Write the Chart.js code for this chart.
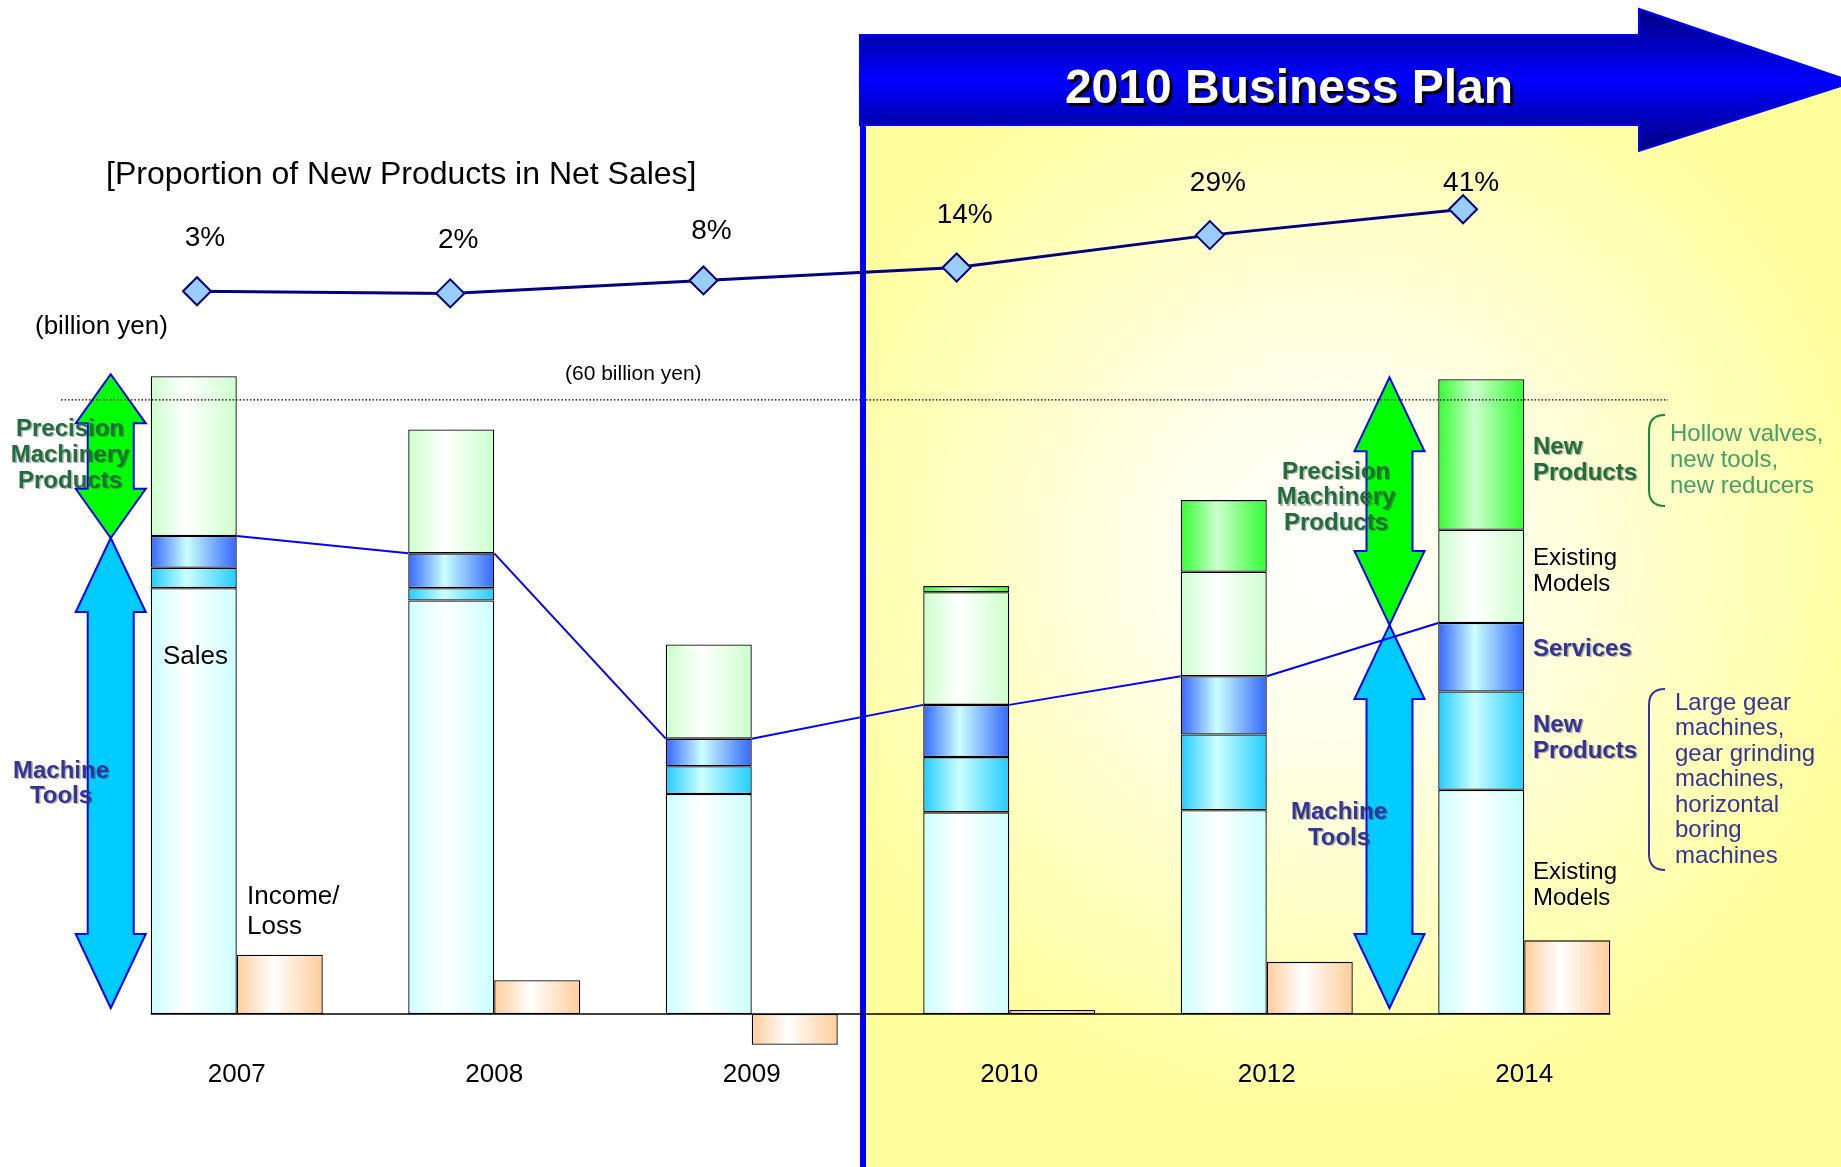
<!DOCTYPE html>
<html>
<head>
<meta charset="utf-8">
<title>2010 Business Plan</title>
<script src="https://cdn.jsdelivr.net/npm/chart.js@4.4.1/dist/chart.umd.min.js"></script>
<style>
    html, body { margin: 0; padding: 0; background: #fff; }
    #wrap { position: relative; width: 1841px; height: 1167px; }
    #wrap canvas { position: absolute; left: 0; top: 0; display: block; }
</style>
</head>
<body>
<div id="wrap">
    <canvas id="salesChart" width="1841" height="1167"></canvas>
    <canvas id="shareChart" width="1841" height="1167"></canvas>
</div>
<script>
const years = ['2007', '2008', '2009', '2010', '2012', '2014'];

// sales breakdown in billion yen, bottom to top of each bar
const mtExisting = [41.6, 40.4, 21.5, 19.7, 19.9, 21.9];
const mtNew      = [2.0, 1.2, 2.7, 5.4, 7.4, 9.6];
const services   = [3.1, 3.4, 2.7, 5.1, 5.7, 6.7];
const pmExisting = [15.6, 12.1, 9.2, 11.0, 10.2, 9.1];
const pmNew      = [null, null, null, 0.6, 7.0, 14.7];

// income / loss in billion yen
const income = [5.8, 3.3, -3.0, 0.4, 5.1, 7.2];

// proportion of new products in net sales (%)
const newShare = [3, 2, 8, 14, 29, 41];

const FONT = "'Liberation Sans', Arial, sans-serif";
const GREEN_TXT = '#1F6E3B';
const BLUE_TXT = '#333399';
const CAT_PCT = 0.668;
const PAD = { left: 108, right: 188, top: 150, bottom: 0 };

function salesTotal(i) {
    return mtExisting[i] + mtNew[i] + services[i] + pmExisting[i] + (pmNew[i] || 0);
}
function mtTop(i) {
    return mtExisting[i] + mtNew[i] + services[i];
}

// horizontal "cylinder" shading for every bar segment
function barFill(edge, mid) {
    return function (c) {
        const xs = c.chart.scales.x;
        if (!xs || c.dataIndex === undefined || !xs.width) return mid;
        const w = xs.width / years.length * CAT_PCT / 2;
        const center = xs.getPixelForValue(c.dataIndex);
        const left = c.dataset.stack === 'sales' ? center - w : center;
        const g = c.chart.ctx.createLinearGradient(left, 0, left + w, 0);
        g.addColorStop(0, edge);
        g.addColorStop(0.42, mid);
        g.addColorStop(1, edge);
        return g;
    };
}

function salesSet(label, data, edge, mid) {
    return {
        label: label,
        data: data,
        stack: 'sales',
        backgroundColor: barFill(edge, mid),
        borderColor: '#000',
        borderWidth: 1.3,
        borderSkipped: false
    };
}

function text(ctx, lines, x, y, lineH, font, color, align, shadow) {
    ctx.save();
    ctx.font = font;
    ctx.fillStyle = color;
    ctx.textAlign = align || 'left';
    ctx.textBaseline = 'middle';
    if (shadow) {
        ctx.shadowColor = 'rgba(0,0,0,0.3)';
        ctx.shadowOffsetX = 1.5;
        ctx.shadowOffsetY = 1.5;
    }
    lines.forEach((s, k) => ctx.fillText(s, x, y + k * lineH));
    ctx.restore();
}

function doubleArrow(ctx, cx, top, bottom, fill) {
    const head = Math.min(74, (bottom - top) * 0.3);
    const hw = 35, sw = 23;
    ctx.beginPath();
    ctx.moveTo(cx, top);
    ctx.lineTo(cx + hw, top + head);
    ctx.lineTo(cx + sw, top + head);
    ctx.lineTo(cx + sw, bottom - head);
    ctx.lineTo(cx + hw, bottom - head);
    ctx.lineTo(cx, bottom);
    ctx.lineTo(cx - hw, bottom - head);
    ctx.lineTo(cx - sw, bottom - head);
    ctx.lineTo(cx - sw, top + head);
    ctx.lineTo(cx - hw, top + head);
    ctx.closePath();
    ctx.fillStyle = fill;
    ctx.fill();
    ctx.strokeStyle = '#0000FF';
    ctx.lineWidth = 2;
    ctx.stroke();
}

function bracket(ctx, x, top, bottom, color) {
    ctx.beginPath();
    ctx.moveTo(x + 16, top);
    ctx.quadraticCurveTo(x, top, x, top + 16);
    ctx.lineTo(x, bottom - 16);
    ctx.quadraticCurveTo(x, bottom, x + 16, bottom);
    ctx.strokeStyle = color;
    ctx.lineWidth = 2;
    ctx.stroke();
}

const decor = {
    id: 'decor',
    beforeDraw(chart) {
        const ctx = chart.ctx, W = chart.width, H = chart.height;
        ctx.save();
        ctx.fillStyle = '#fff';
        ctx.fillRect(0, 0, W, H);

        // business plan zone
        const rg = ctx.createRadialGradient(1330, 560, 0, 1330, 560, 560);
        rg.addColorStop(0, '#FFFFFF');
        rg.addColorStop(0.3, '#FFFFEC');
        rg.addColorStop(1, '#FFFF9C');
        ctx.fillStyle = rg;
        ctx.fillRect(863, 82, W - 863, H - 82);
        ctx.fillStyle = '#0000FF';
        ctx.fillRect(860, 35, 6, H - 35);

        // banner arrow
        const bg = ctx.createLinearGradient(0, 9, 0, 151);
        bg.addColorStop(0, '#000080');
        bg.addColorStop(0.5, '#0000FF');
        bg.addColorStop(1, '#000080');
        ctx.beginPath();
        ctx.moveTo(860, 35);
        ctx.lineTo(1639, 35);
        ctx.lineTo(1639, 9);
        ctx.lineTo(1853, 82);
        ctx.lineTo(1639, 151);
        ctx.lineTo(1639, 125);
        ctx.lineTo(860, 125);
        ctx.closePath();
        ctx.fillStyle = bg;
        ctx.fill();
        ctx.strokeStyle = '#0000FF';
        ctx.lineWidth = 2;
        ctx.stroke();

        ctx.font = 'bold 48px ' + FONT;
        ctx.textAlign = 'center';
        ctx.textBaseline = 'middle';
        ctx.fillStyle = '#000';
        ctx.fillText('2010 Business Plan', 1292, 93);
        ctx.fillStyle = '#fff';
        ctx.fillText('2010 Business Plan', 1289, 90);
        ctx.restore();
    },
    afterDatasetsDraw(chart) {
        const ctx = chart.ctx;
        const xs = chart.scales.x, y = chart.scales.y;
        const bw = xs.width / years.length * CAT_PCT / 2;
        const base = y.getPixelForValue(0);
        ctx.save();

        // zero line under the bars
        ctx.strokeStyle = '#000';
        ctx.lineWidth = 1.5;
        ctx.beginPath();
        ctx.moveTo(xs.getPixelForValue(0) - bw, base);
        ctx.lineTo(xs.getPixelForValue(years.length - 1) + bw, base);
        ctx.stroke();

        // segment arrows
        const last = years.length - 1;
        const arrowX = [
            [xs.getPixelForValue(0) - bw - 40, 0],
            [(xs.getPixelForValue(last - 1) + xs.getPixelForValue(last)) / 2 - 6, last]
        ];
        arrowX.forEach(([ax, i]) => {
            const t = y.getPixelForValue(salesTotal(i)) - 2;
            const m = y.getPixelForValue(mtTop(i)) + 2;
            doubleArrow(ctx, ax, t, m, '#00FF00');
            doubleArrow(ctx, ax, m, base - 6, '#00CCFF');
        });

        // machine tools / precision machinery boundary
        const svc = chart.getDatasetMeta(2).data;
        ctx.strokeStyle = '#0000FF';
        ctx.lineWidth = 2;
        for (let i = 0; i < svc.length - 1; i++) {
            const a = svc[i], b = svc[i + 1];
            ctx.beginPath();
            ctx.moveTo(a.x + a.width / 2, a.y);
            ctx.lineTo(b.x - b.width / 2, b.y);
            ctx.stroke();
        }

        // 60 billion yen reference
        const y60 = y.getPixelForValue(60);
        ctx.strokeStyle = '#000';
        ctx.lineWidth = 1.2;
        ctx.setLineDash([1.5, 2]);
        ctx.beginPath();
        ctx.moveTo(xs.left - 47, y60);
        ctx.lineTo(xs.right + 15, y60);
        ctx.stroke();
        ctx.setLineDash([]);

        const reg = (s) => s + 'px ' + FONT;
        const bold = (s) => 'bold ' + s + 'px ' + FONT;
        text(ctx, ['[Proportion of New Products in Net Sales]'], 106, 175, 0, reg(32), '#000');
        text(ctx, ['(billion yen)'], 35, 327, 0, reg(26), '#000');
        text(ctx, ['(60 billion yen)'], 565, y60 - 26, 0, reg(21), '#000');

        text(ctx, ['Precision', 'Machinery', 'Products'], 70, 429, 26, bold(24), GREEN_TXT, 'center', true);
        text(ctx, ['Machine', 'Tools'], 61, 771, 25, bold(24), BLUE_TXT, 'center', true);
        text(ctx, ['Sales'], 163, 657, 0, reg(26), '#000');
        text(ctx, ['Income/', 'Loss'], 247, 897, 30, reg(26), '#000');

        text(ctx, ['Precision', 'Machinery', 'Products'], 1336, 472, 25.5, bold(24), GREEN_TXT, 'center', true);
        text(ctx, ['Machine', 'Tools'], 1339, 812, 26, bold(24), BLUE_TXT, 'center', true);

        text(ctx, ['New', 'Products'], 1533, 447, 26, bold(24), GREEN_TXT, 'left', true);
        text(ctx, ['Existing', 'Models'], 1533, 558, 26, reg(24), '#000');
        text(ctx, ['Services'], 1533, 649, 0, bold(24), BLUE_TXT, 'left', true);
        text(ctx, ['New', 'Products'], 1533, 725, 26, bold(24), BLUE_TXT, 'left', true);
        text(ctx, ['Existing', 'Models'], 1533, 872, 26, reg(24), '#000');

        bracket(ctx, 1649, 415, 506, '#1A8A3A');
        text(ctx, ['Hollow valves,', 'new tools,', 'new reducers'], 1670, 434, 26, reg(24), '#45A065');
        bracket(ctx, 1649, 689, 870, BLUE_TXT);
        text(ctx, ['Large gear', 'machines,', 'gear grinding', 'machines,', 'horizontal', 'boring', 'machines'],
            1675, 703, 25.5, reg(24), BLUE_TXT);

        ctx.restore();
    }
};

new Chart(document.getElementById('salesChart'), {
    type: 'bar',
    data: {
        labels: years,
        datasets: [
            salesSet('Machine tools, existing', mtExisting, '#CCFFFF', '#FFFFFF'),
            salesSet('Machine tools, new', mtNew, '#22CCFF', '#CCFFFF'),
            salesSet('Services', services, '#3366FF', '#CCFFFF'),
            salesSet('Precision machinery, existing', pmExisting, '#CCFFCC', '#FFFFFF'),
            salesSet('Precision machinery, new', pmNew, '#33FF33', '#CCFFCC'),
            {
                label: 'Income/Loss',
                data: income,
                stack: 'income',
                backgroundColor: barFill('#FFCC99', '#FFFFFF'),
                borderColor: '#000',
                borderWidth: 1.3,
                borderSkipped: false
            }
        ]
    },
    options: {
        responsive: false,
        animation: false,
        devicePixelRatio: 1,
        categoryPercentage: CAT_PCT,
        barPercentage: 1,
        layout: { padding: PAD },
        plugins: {
            legend: { display: false },
            tooltip: { enabled: false }
        },
        scales: {
            x: {
                stacked: true,
                offset: true,
                grid: { display: false, drawTicks: false },
                border: { display: false },
                ticks: { color: '#000', font: { family: FONT, size: 26 }, padding: 4 },
                afterFit(scale) { scale.height = 112; }
            },
            y: { stacked: true, min: -4, max: 84.4, display: false }
        }
    },
    plugins: [decor]
});

// proportion line, drawn on its own transparent layer
const shareLabels = {
    id: 'shareLabels',
    afterDatasetsDraw(chart) {
        const lift = [53, 53, 49, 52, 52, 26];
        chart.getDatasetMeta(0).data.forEach((p, i) => {
            text(chart.ctx, [newShare[i] + '%'], p.x + 8, p.y - lift[i], 0, '28px ' + FONT, '#000', 'center');
        });
    }
};

new Chart(document.getElementById('shareChart'), {
    type: 'line',
    data: {
        datasets: [{
            label: 'Proportion of new products',
            data: newShare.map((v, i) => ({ x: i, y: v })),
            borderColor: '#000080',
            borderWidth: 3,
            tension: 0,
            pointStyle: 'rectRot',
            pointRadius: 14,
            pointBackgroundColor: '#99CCFF',
            pointBorderColor: '#000080',
            pointBorderWidth: 2
        }]
    },
    options: {
        responsive: false,
        animation: false,
        devicePixelRatio: 1,
        layout: { padding: { left: PAD.left, right: PAD.right, top: PAD.top, bottom: 112 } },
        plugins: {
            legend: { display: false },
            tooltip: { enabled: false }
        },
        scales: {
            x: { type: 'linear', min: -0.3515, max: 5.75, display: false },
            y: { type: 'linear', min: -350.9, max: 68.44, display: false }
        }
    },
    plugins: [shareLabels]
});
</script>
</body>
</html>
